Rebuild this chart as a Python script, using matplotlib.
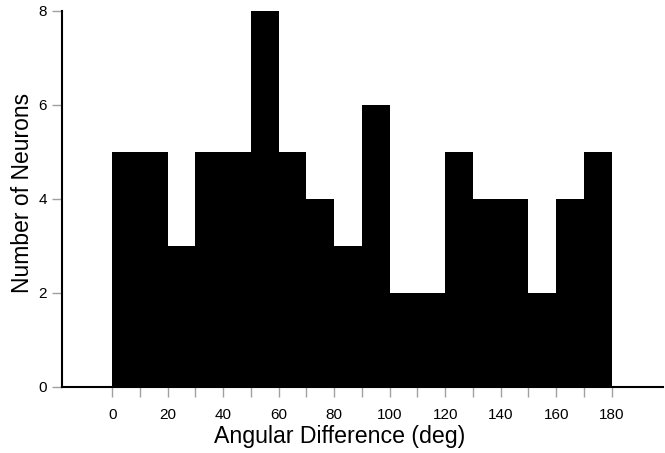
import matplotlib
matplotlib.use("Agg")
import matplotlib.pyplot as plt
import numpy as np

plt.rcParams['font.family'] = ['Liberation Sans', 'DejaVu Sans']

bin_edges = list(range(0, 190, 10))
counts = [5, 5, 3, 5, 5, 8, 5, 4, 3, 6, 2, 2, 5, 4, 4, 2, 4, 5]
xticks = list(range(0, 181, 20))
yticks = [0, 2, 4, 6, 8]

fig = plt.figure(figsize=(6.65, 4.53), dpi=100)
ax = fig.add_axes([62/665, 1-387/453, (663-62)/665, (387-11)/453])

ax.stairs(counts, bin_edges, fill=True, color='black', linewidth=0)

ax.set_xlim(-18.1, 198.5)
ax.set_ylim(0, 8)
ax.set_xticks(xticks)
ax.set_xticks(list(range(10, 180, 20)), minor=True)
ax.set_yticks(yticks)

for s in ['top', 'right']:
    ax.spines[s].set_visible(False)
for s in ['left', 'bottom']:
    ax.spines[s].set_linewidth(1.5)
    ax.spines[s].set_color('black')

ax.tick_params(axis='both', which='both', direction='out', length=7, width=1,
               color='#a0a0a0', labelsize=11, pad=4)
ax.tick_params(axis='x', which='major', pad=8)

ax.set_xlabel('Angular Difference (deg)', fontsize=16.7)
ax.xaxis.set_label_coords((340 - 62) / 601, -(425 - 387) / 376)
ax.set_ylabel('Number of Neurons', fontsize=16.5)
ax.yaxis.set_label_coords(-(62 - 34) / 601, (387 - 192.5) / 376)

fig.savefig('out.png', dpi=100)
